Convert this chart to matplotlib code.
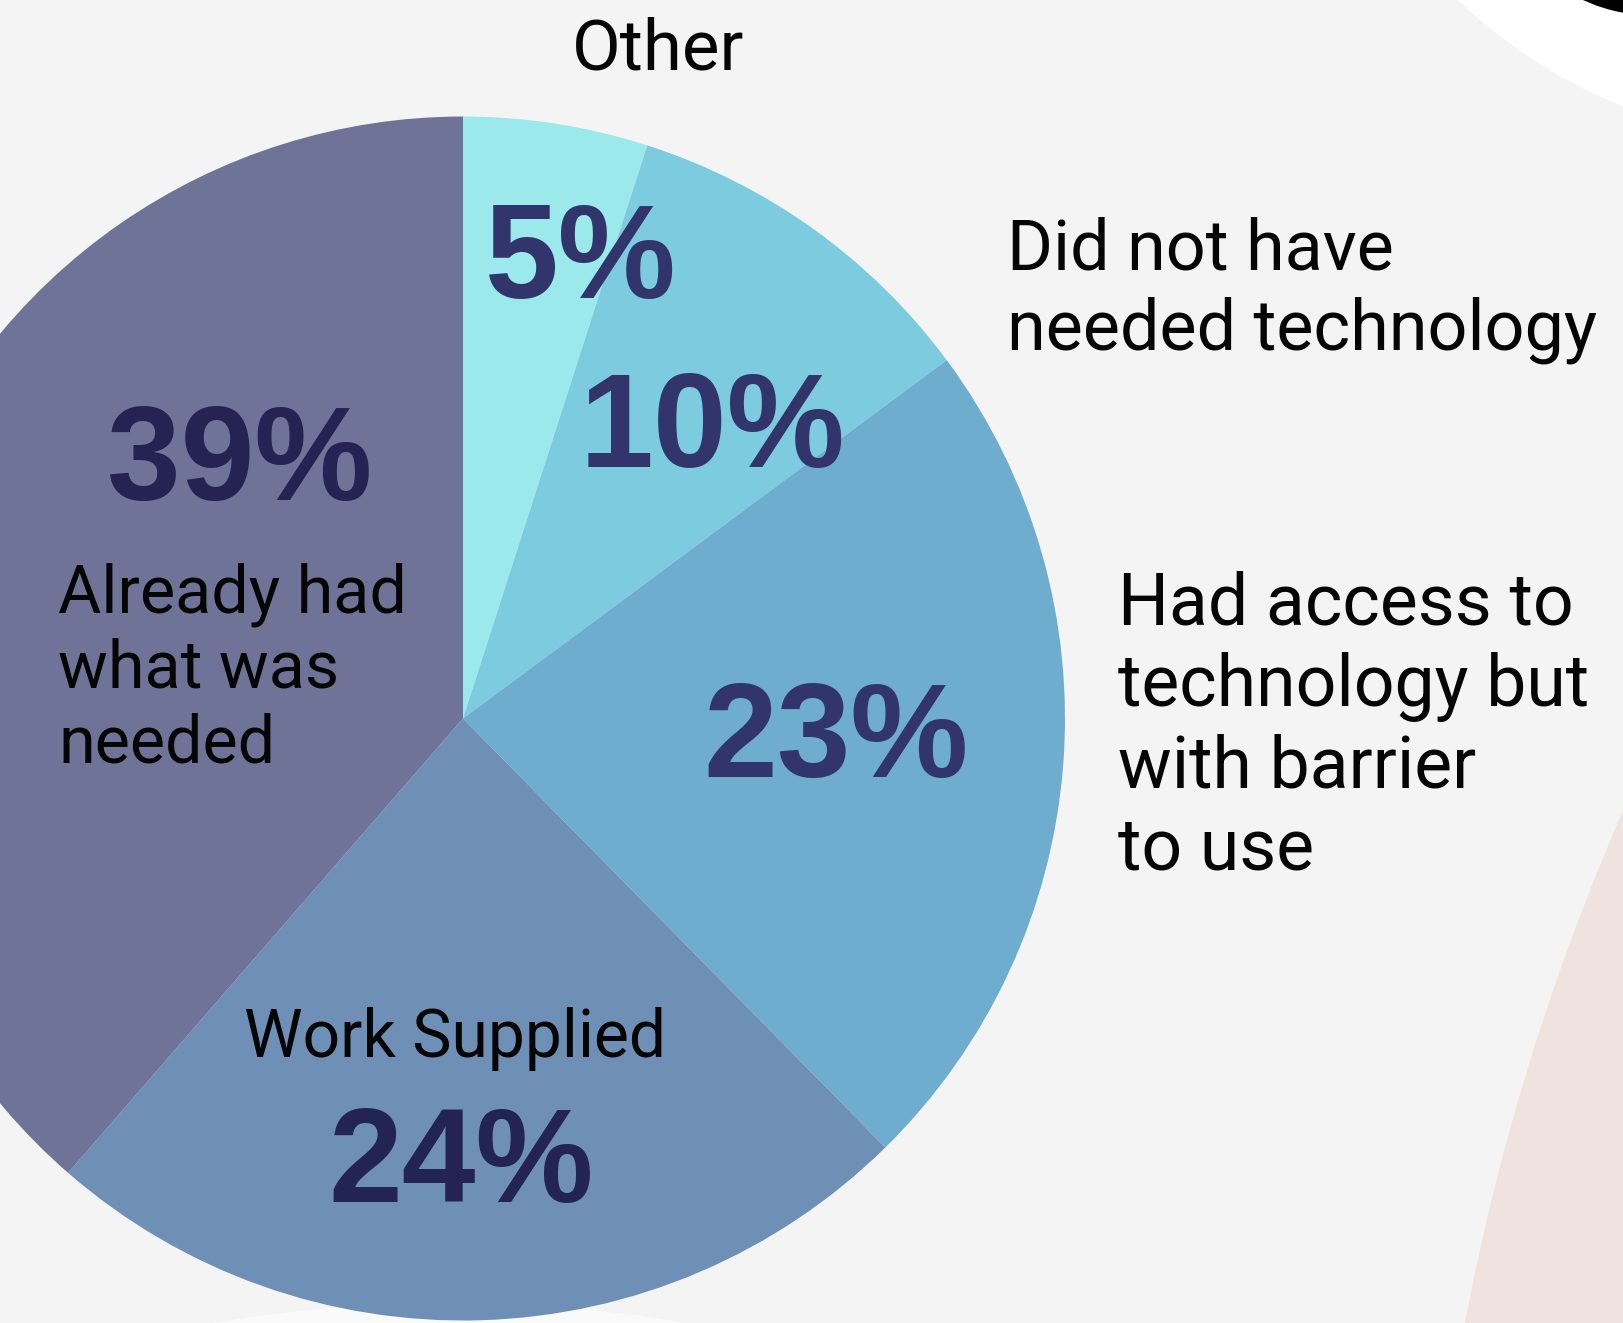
import matplotlib
matplotlib.use("Agg")
import matplotlib.pyplot as plt
from matplotlib.patches import Circle

# ---- data ----
categories = ["Other", "Did not have needed technology",
              "Had access to technology but with barrier to use",
              "Work Supplied", "Already had what was needed"]
values = [5, 10, 23, 24, 39]
pct_labels = ["5%", "10%", "23%", "24%", "39%"]
colors = ["#9ce9ec", "#7ccbde", "#6eadce", "#6f90b6", "#707398"]

W, H = 1624, 1323
fig = plt.figure(figsize=(W / 100, H / 100), dpi=100)
fig.patch.set_facecolor("#f4f4f4")
ax = fig.add_axes([0, 0, 1, 1])
ax.set_facecolor("#f4f4f4")

def Y(y):
    return H - y

# decorative background shapes
ax.add_patch(Circle((1820, Y(-380)), 525, color="white", lw=0, zorder=0))
ax.add_patch(Circle((1650, Y(-142)), 157, color="black", lw=0, zorder=0.5))
ax.add_patch(Circle((3796, Y(1762)), 2372, color="#f0e3df", lw=0, zorder=0))
ax.add_patch(Circle((450, Y(2717)), 1414, color="#fafafa", lw=0, zorder=0))

# pie
ax.pie(values, colors=colors, startangle=90, counterclock=False,
       center=(463, Y(718.5)), radius=602,
       wedgeprops=dict(linewidth=0), frame=True)
ax.set_xlim(0, W)
ax.set_ylim(0, H)
ax.set_aspect("equal")
ax.axis("off")

lab_font = "Roboto"
pct_font = "Liberation Sans"

def lines(x, y0, step, txts, size, ha="left"):
    for i, t in enumerate(txts):
        ax.text(x, Y(y0 + i * step), t, fontsize=size, family=lab_font,
                ha=ha, va="baseline", color="#050505", zorder=5)

lines(658, 70, 0, ["Other"], 51, ha="center")
lines(1007, 269, 81, ["Did not have", "needed technology"], 50.5)
lines(1118, 625, 81.5, ["Had access to", "technology but", "with barrier", "to use"], 51.5)
lines(58, 613, 75, ["Already had", "what was", "needed"], 47.8)
lines(455, 1057, 0, ["Work Supplied"], 47.5, ha="center")

pct_pos = [(581, 298), (712, 467), (836, 777), (461, 1202), (240, 500)]
pct_cols = ["#31356b", "#31356b", "#31356b", "#232453", "#232453"]
for (x, y), t, c in zip(pct_pos, pct_labels, pct_cols):
    ax.text(x, Y(y), t, fontsize=95.5, family=pct_font, weight="bold",
            ha="center", va="baseline", color=c, zorder=5)

fig.savefig("out.png", dpi=100, facecolor=fig.get_facecolor())
